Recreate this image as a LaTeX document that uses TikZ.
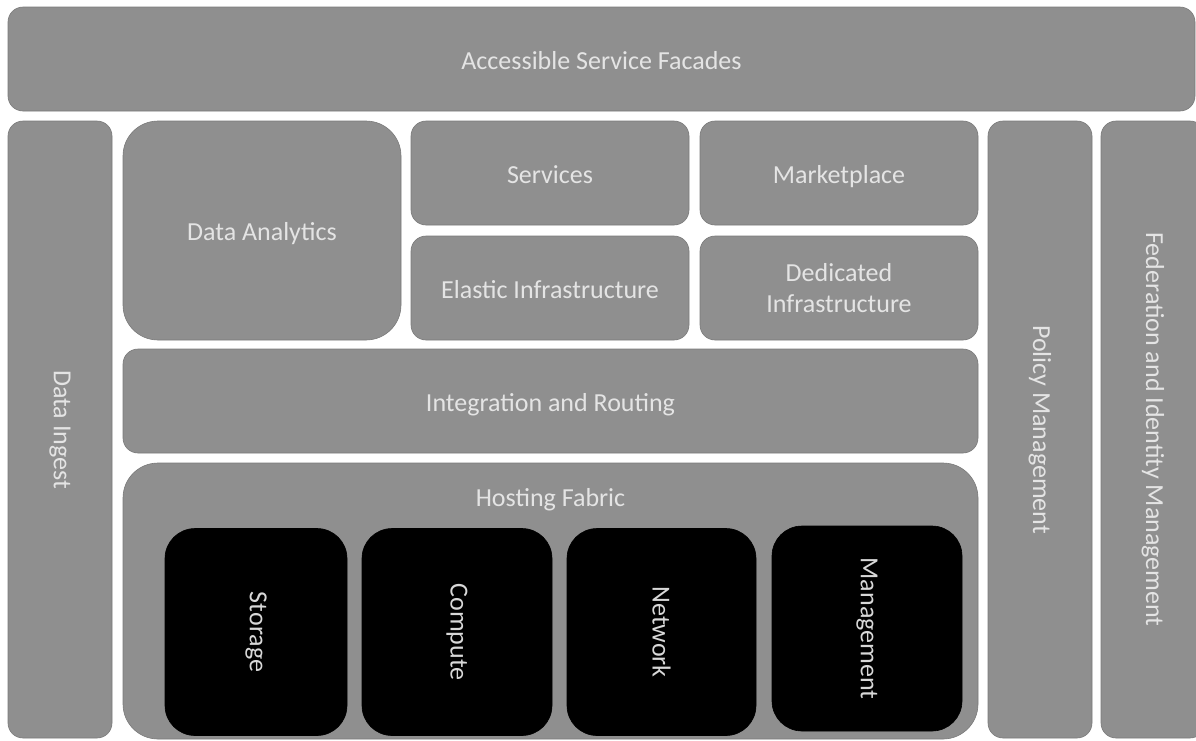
\documentclass[tikz,border=0pt]{standalone}
\usepackage{fontspec}
\setmainfont{Carlito}
\usepackage{xcolor}

\definecolor{panelgray}{HTML}{8F8F8F}
\definecolor{labelgray}{HTML}{E4E4E4}

\tikzset{
  panel/.style={fill=panelgray, draw=panelgray!85!black, line width=0.6pt,
    rounded corners=15pt, inner sep=0pt, text=labelgray, align=center,
    text height=21pt, text depth=1pt,
    font=\fontsize{26}{31}\selectfont},
  bigpanel/.style={panel, rounded corners=35pt},
  corebox/.style={panel, fill=black, draw=black, rounded corners=30pt,
    text=labelgray!95!black, rotate=-90, text height=, text depth=},
  sidebar/.style={panel, rotate=-90, minimum width=617pt, minimum height=104pt,
    text height=, text depth=}
}

\begin{document}
\begin{tikzpicture}[x=1pt, y=-1pt]
  \useasboundingbox (0,0) rectangle (1196,740);

  % Draw the top facade bar
  \node[panel, minimum width=1187pt, minimum height=104pt] (facades) at (601.5,59) {Accessible Service Facades};

  % Draw the side bars
  \node[sidebar] (ingest) at (60,429.5) {Data Ingest};
  \node[sidebar] (policy) at (1040,429.5) {Policy Management};
  \node[sidebar] (federation) at (1153,429.5) {Federation and Identity Management};

  % Draw the upper blocks
  \node[bigpanel, minimum width=278pt, minimum height=219pt] (analytics) at (262,230.5) {Data Analytics};
  \node[panel, minimum width=278pt, minimum height=104pt] (services) at (550,173) {Services};
  \node[panel, minimum width=278pt, minimum height=104pt] (market) at (839,173) {Marketplace};
  \node[panel, minimum width=278pt, minimum height=104pt] (elastic) at (550,288) {Elastic Infrastructure};
  \node[panel, minimum width=278pt, minimum height=104pt, text height=, text depth=] (dedicated) at (839,288) {Dedicated\\Infrastructure};

  % Draw the integration layer
  \node[panel, minimum width=855pt, minimum height=104pt] (routing) at (550.5,401) {Integration and Routing};

  % Draw the hosting fabric and its parts
  \node[bigpanel, minimum width=855pt, minimum height=276pt] (hosting) at (550.5,601) {};
  \node[text=labelgray, font=\fontsize{26}{31}\selectfont] (hostinglabel) at ([yshift=-37pt]hosting.north) {Hosting Fabric};
  \node[corebox, minimum width=207pt, minimum height=182pt] (storage) at (256,632) {Storage};
  \node[corebox, minimum width=207pt, minimum height=190pt] (compute) at (457,632) {Compute};
  \node[corebox, minimum width=207pt, minimum height=189pt] (network) at (661.5,632) {Network};
  \node[corebox, minimum width=205pt, minimum height=190pt] (mgmt) at (867,628.5) {Management};
\end{tikzpicture}
\end{document}
